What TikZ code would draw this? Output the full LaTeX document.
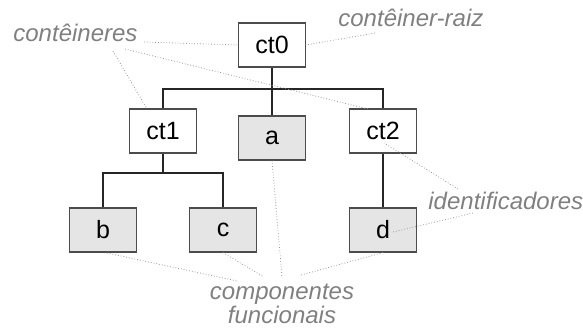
\documentclass[tikz,border=0pt]{standalone}
\usepackage{fontspec}
\setmainfont{Liberation Sans}
\definecolor{cinzatexto}{rgb}{0.5,0.5,0.5}
\definecolor{cinzalinha}{rgb}{0.6,0.6,0.6}
\definecolor{fundocomp}{rgb}{0.9,0.9,0.9}
\definecolor{borda}{rgb}{0.3,0.3,0.3}

\begin{document}
\begin{tikzpicture}[x=0.5pt, y=-0.5pt,
    caixa/.style={draw=borda, line width=0.6pt, minimum width=33.5pt, minimum height=22pt, inner sep=0pt, font=\fontsize{12.5}{12.5}\selectfont},
    comp/.style={caixa, fill=fundocomp},
    rotulo/.style={text=cinzatexto, inner sep=0pt, font=\fontsize{12}{12}\selectfont\itshape},
    ligacao/.style={black!85, line width=0.6pt},
    indicacao/.style={cinzalinha, line width=0.4pt, densely dotted}] %arvore
            \useasboundingbox (0,0) rectangle (583,330);

            \node[caixa] (ct0) at (272,45) {ct0};
            \node[caixa] (ct1) at (163,131) {ct1};
            \node[comp] (a) at (272,138) {a};
            \node[caixa] (ct2) at (383,131) {ct2};
            \node[comp] (b) at (103,230) {b};
            \node[comp] (c) at (223,230) {c};
            \node[comp] (d) at (383,230) {d};

            \coordinate (bus0) at (272,89);
            \coordinate (bus1) at (163,173);
            \draw[ligacao] (ct0.south) -- (a.north);
            \draw[ligacao] (ct1.north) |- (bus0) -| (ct2.north);
            \draw[ligacao] (ct1.south) -- (bus1);
            \draw[ligacao] (b.north) |- (bus1) -| (c.north);
            \draw[ligacao] (ct2.south) -- (d.north);

            \node[rotulo, anchor=base west] (conteineres) at (13,42) {contêineres};
            \node[rotulo, anchor=base west] (raiz) at (338,27) {contêiner-raiz};
            \node[rotulo, anchor=base west] (ident) at (428,210) {identificadores};
            \node[rotulo, align=center, anchor=base] (componentes) at (282,324) {componentes\\funcionais};

            % pontas das indicacoes
            \coordinate (n1) at (144,42);
            \coordinate (n2) at (125,49);
            \coordinate (n3) at (113,51);
            \coordinate (m1) at (147,109);
            \coordinate (m2) at (368,109);
            \coordinate (n4) at (375,33);
            \coordinate (n5) at (458,189);
            \coordinate (n6) at (473,213);
            \coordinate (m5) at (384,143);
            \coordinate (m6) at (393,232);
            \coordinate (k1) at (237,281);
            \coordinate (k2) at (264,277);
            \coordinate (k3) at (282,277);
            \coordinate (k4) at (301,275);
            \coordinate (bb) at (107,253);

            \draw[indicacao] (n1) -- (ct0.west);
            \draw[indicacao] (n2) -- (m2);
            \draw[indicacao] (n3) -- (m1);
            \draw[indicacao] (n4) -- (ct0.east);
            \draw[indicacao] (n5) -- (m5);
            \draw[indicacao] (n6) -- (m6);
            \draw[indicacao] (bb) -- (k1);
            \draw[indicacao] (c.south) -- (k2);
            \draw[indicacao] (a.south) -- (k3);
            \draw[indicacao] (d.south) -- (k4);
        \end{tikzpicture}
\end{document}
